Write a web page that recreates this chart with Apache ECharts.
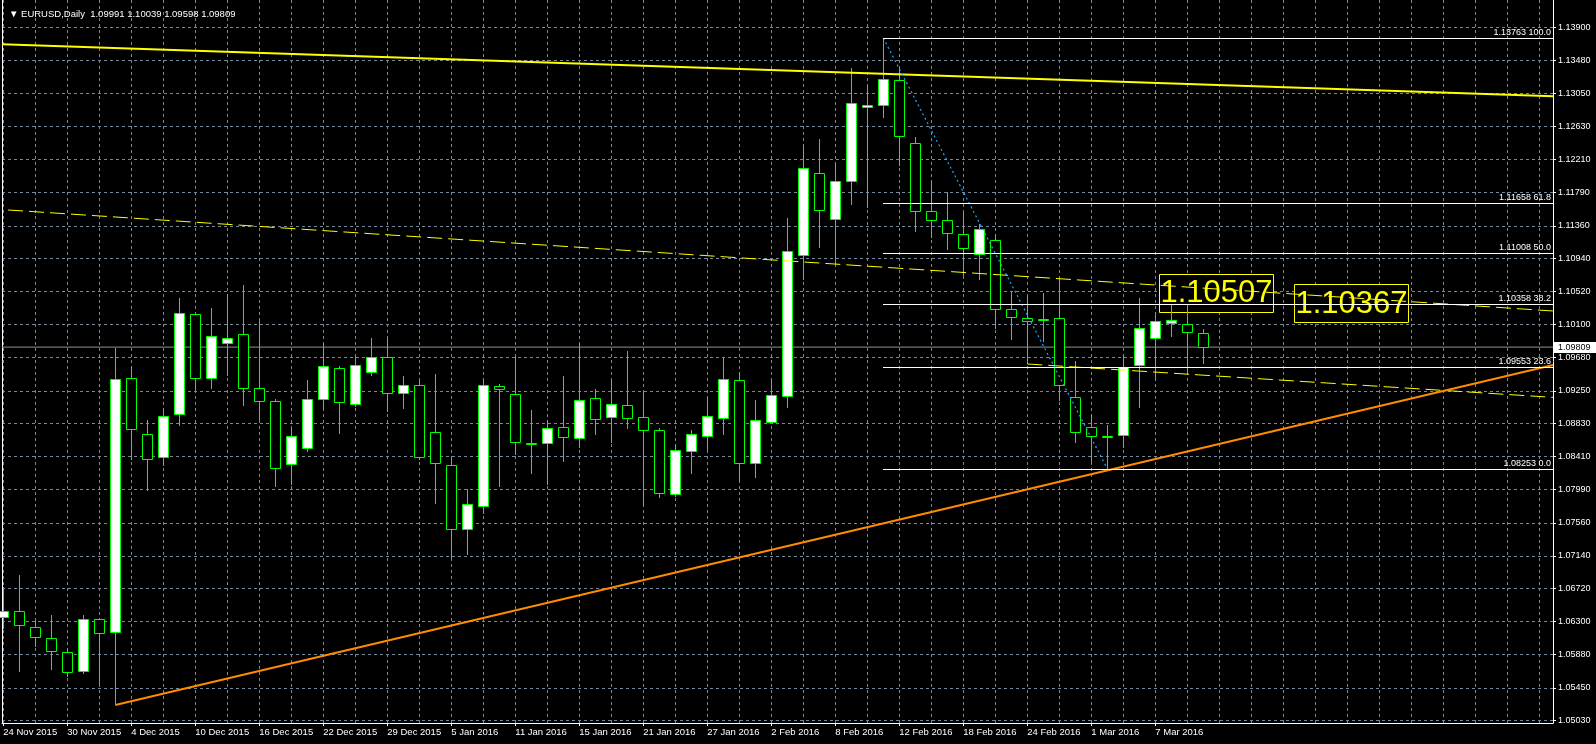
<!DOCTYPE html>
<html><head><meta charset="utf-8">
<script src="https://cdn.jsdelivr.net/npm/echarts@6/dist/echarts.min.js"></script>
<style>html,body{margin:0;padding:0;background:#000}#c{width:1596px;height:744px}</style>
</head><body><div id="c"></div>
<script>
// ---------------- data ----------------
const symbolTitle = 'EURUSD,Daily';
const dates = ['24 Nov 2015','25 Nov 2015','26 Nov 2015','27 Nov 2015','30 Nov 2015','1 Dec 2015','2 Dec 2015','3 Dec 2015',
'4 Dec 2015','7 Dec 2015','8 Dec 2015','9 Dec 2015','10 Dec 2015','11 Dec 2015','14 Dec 2015','15 Dec 2015',
'16 Dec 2015','17 Dec 2015','18 Dec 2015','21 Dec 2015','22 Dec 2015','23 Dec 2015','24 Dec 2015','28 Dec 2015',
'29 Dec 2015','30 Dec 2015','31 Dec 2015','4 Jan 2016','5 Jan 2016','6 Jan 2016','7 Jan 2016','8 Jan 2016',
'11 Jan 2016','12 Jan 2016','13 Jan 2016','14 Jan 2016','15 Jan 2016','18 Jan 2016','19 Jan 2016','20 Jan 2016',
'21 Jan 2016','22 Jan 2016','25 Jan 2016','26 Jan 2016','27 Jan 2016','28 Jan 2016','29 Jan 2016','1 Feb 2016',
'2 Feb 2016','3 Feb 2016','4 Feb 2016','5 Feb 2016','8 Feb 2016','9 Feb 2016','10 Feb 2016','11 Feb 2016',
'12 Feb 2016','15 Feb 2016','16 Feb 2016','17 Feb 2016','18 Feb 2016','19 Feb 2016','22 Feb 2016','23 Feb 2016',
'24 Feb 2016','25 Feb 2016','26 Feb 2016','29 Feb 2016','1 Mar 2016','2 Mar 2016','3 Mar 2016','4 Mar 2016',
'7 Mar 2016','8 Mar 2016','9 Mar 2016','10 Mar 2016'];
const opens = [1.06352,1.06429,1.06224,1.06084,1.05905,1.05662,1.06327,1.06160,
1.09410,1.08693,1.08399,1.08949,1.10228,1.09410,1.09857,1.09972,
1.09282,1.09115,1.08310,1.08514,1.09141,1.09538,1.09077,1.09486,
1.09678,1.09218,1.09320,1.08719,1.08297,1.07478,1.07772,1.09307,
1.09205,1.08576,1.08578,1.08783,1.08642,1.09154,1.08911,1.09064,
1.08911,1.08744,1.07926,1.08476,1.08668,1.08898,1.09384,1.08322,
1.08855,1.09179,1.10983,1.12032,1.11444,1.11930,1.12876,1.12902,
1.13222,1.12416,1.11546,1.11431,1.11252,1.10996,1.11175,1.10292,
1.10177,1.10173,1.10177,1.09167,1.08783,1.08676,1.08681,1.09576,
1.09921,1.10113,1.10100,1.09991];
const highs = [1.06736,1.06894,1.06310,1.06382,1.05964,1.06382,1.06340,1.09798,
1.09563,1.08872,1.09013,1.10433,1.10241,1.10305,1.10488,1.10604,
1.10143,1.09141,1.08770,1.09384,1.09845,1.09563,1.09678,1.09921,
1.09921,1.09435,1.09371,1.09461,1.08386,1.07990,1.09397,1.09333,
1.09691,1.09000,1.08872,1.09435,1.09845,1.09269,1.09384,1.09755,
1.09231,1.08770,1.08565,1.08744,1.09167,1.09678,1.09486,1.09128,
1.09401,1.11456,1.12390,1.12467,1.12160,1.13375,1.13145,1.13763,
1.13375,1.12493,1.11930,1.11789,1.11529,1.11380,1.11252,1.10523,
1.10463,1.10497,1.10689,1.09627,1.08936,1.08808,1.09704,1.10437,
1.10254,1.10358,1.10358,1.10039];
const lows = [1.06199,1.05657,1.05977,1.05683,1.05585,1.05632,1.05504,1.05231,
1.08361,1.07964,1.08284,1.08796,1.09256,1.09269,1.09435,1.09051,
1.08877,1.08024,1.08049,1.08472,1.09022,1.08702,1.09039,1.09444,
1.08975,1.09022,1.08365,1.07806,1.07103,1.07145,1.07670,1.08024,
1.08433,1.08190,1.08049,1.08344,1.08514,1.08689,1.08587,1.08766,
1.07772,1.07883,1.07896,1.08182,1.08497,1.08689,1.08101,1.08139,
1.08834,1.09034,1.10668,1.11081,1.10868,1.11623,1.11584,1.12736,
1.12122,1.11277,1.11201,1.11056,1.10714,1.10663,1.10036,1.09896,
1.09589,1.09870,1.09115,1.08587,1.08344,1.08253,1.08514,1.09026,
1.09371,1.09934,1.09461,1.09598];
const closes = [1.06429,1.06250,1.06097,1.05917,1.05649,1.06327,1.06148,1.09397,
1.08757,1.08373,1.08924,1.10241,1.09410,1.09947,1.09921,1.09282,
1.09115,1.08258,1.08668,1.09141,1.09563,1.09103,1.09576,1.09678,
1.09218,1.09320,1.08399,1.08322,1.07478,1.07798,1.09320,1.09269,
1.08591,1.08572,1.08770,1.08655,1.09128,1.08885,1.09077,1.08898,
1.08744,1.07939,1.08489,1.08693,1.08924,1.09397,1.08322,1.08872,
1.09192,1.11034,1.12096,1.11559,1.11930,1.12927,1.12902,1.13234,
1.12505,1.11546,1.11431,1.11264,1.11073,1.11316,1.10292,1.10190,
1.10139,1.10169,1.09320,1.08719,1.08668,1.08672,1.09559,1.10049,
1.10139,1.10152,1.09998,1.09809];
const priceTicks = [1.05030,1.05450,1.05880,1.06300,1.06720,1.07140,1.07560,1.07990,1.08410,1.08830,1.09250,
1.09680,1.10100,1.10520,1.10940,1.11360,1.11790,1.12210,1.12630,1.13050,1.13480,1.13900];
const fibLevels = [1.13763,1.11658,1.11008,1.10358,1.09553,1.08253];
const fibPercents = ['100.0','61.8','50.0','38.2','23.6','0.0'];
const fibAnchor = [[55,1.13763],[69,1.08253]];          // high bar -> low bar
const resistanceLine = [[-0.08,1.13682],[96.86,1.13017]];
const channelUpper = [[0.3,1.11563],[96.86,1.10271]];
const channelLower = [[64,1.09593],[96.86,1.09166]];
const supportLine = [[7,1.05231],[96.86,1.09579]];
const priceNotes = [[72.25,1.10507],[80.69,1.10367]];
const lastPrice = 1.09809;

// ---------------- layout ----------------
const X_MIN = -0.08125, X_MAX = 96.856;
const Y_MIN = 1.050006, Y_MAX = 1.142492;
const FONT = "'Liberation Sans', Arial, sans-serif";
const gridIdx = []; for (let i = 0; i <= 96; i += 2) gridIdx.push(i);
const labelIdx = []; for (let i = 0; i < dates.length; i += 4) labelIdx.push(i);

const candleData = opens.map((o, i) => [i, o, closes[i], lows[i], highs[i]]);
const last = candleData.length - 1;
const titleText = '\u25BC ' + symbolTitle + '  ' + [opens[last], highs[last], lows[last], closes[last]].map(v => v.toFixed(5)).join(' ');

function lineSeries(data, color, width, type, z) {
  return { type: 'line', data: data, xAxisIndex: 0, yAxisIndex: 0, showSymbol: false, symbol: 'none',
    silent: true, clip: true, z: z,
    lineStyle: { color: color, width: width, type: type } };
}

const chart = echarts.init(document.getElementById('c'), null, { renderer: 'canvas' });
const option = {
  backgroundColor: '#000000',
  animation: false,
  title: { text: titleText, left: 4, top: 4,
    textStyle: { color: '#ffffff', fontSize: 9.5, fontWeight: 'normal', fontFamily: FONT } },
  grid: { left: 2, right: 43, top: 0, bottom: 21, containLabel: false },
  xAxis: [
    { type: 'value', position: 'top', min: X_MIN, max: X_MAX,
      axisLine: { show: false }, axisTick: { show: false, customValues: gridIdx }, axisLabel: { show: false },
      splitLine: { show: true, lineStyle: { color: '#778899', width: 1, type: [3, 3] } } },
    { type: 'value', position: 'bottom', min: X_MIN, max: X_MAX,
      axisLine: { show: true, onZero: false, lineStyle: { color: '#ffffff', width: 1 } },
      axisTick: { show: true, customValues: labelIdx, length: 3, lineStyle: { color: '#ffffff' } },
      axisLabel: { show: true, customValues: labelIdx, formatter: v => dates[Math.round(v)] || '',
        color: '#ffffff', fontSize: 9.5, fontFamily: FONT, align: 'left', margin: 4 },
      splitLine: { show: false } }
  ],
  yAxis: [
    { type: 'value', position: 'right', min: Y_MIN, max: Y_MAX,
      axisLine: { show: true, onZero: false, lineStyle: { color: '#ffffff', width: 1 } },
      axisTick: { show: true, customValues: priceTicks, length: 3, lineStyle: { color: '#ffffff' } },
      axisLabel: { show: true, customValues: priceTicks, formatter: v => v.toFixed(5),
        color: '#ffffff', fontSize: 9, fontFamily: FONT, margin: 5 },
      splitLine: { show: true, lineStyle: { color: '#778899', width: 1, type: [3, 3] } } },
    { type: 'value', position: 'left', min: Y_MIN, max: Y_MAX,
      axisLine: { show: true, onZero: false, lineStyle: { color: '#ffffff', width: 1 } },
      axisTick: { show: false }, axisLabel: { show: false }, splitLine: { show: false } }
  ],
  series: [
    // price note boxes (opaque, under candles)
    { type: 'custom', xAxisIndex: 0, yAxisIndex: 0, z: 2, silent: true, data: priceNotes,
      renderItem: (params, api) => {
        const p = api.coord([api.value(0), api.value(1)]);
        const x = Math.round(p[0]) + 0.5, y = Math.round(p[1] - 19) + 0.5;
        return { type: 'group', children: [
          { type: 'rect', shape: { x: x, y: y, width: 114, height: 38 },
            style: { fill: '#000000', stroke: '#FFFF00', lineWidth: 1 } },
          { type: 'text', z2: 10, style: { x: x + 57, y: p[1] + 1, text: api.value(1).toFixed(5),
            fill: '#FFFF00', font: "31px 'Liberation Sans', Arial, sans-serif", textAlign: 'center', textVerticalAlign: 'middle' } }
        ] };
      } },
    // current price line
    lineSeries([[X_MIN, lastPrice], [X_MAX, lastPrice]], '#8f8f8f', 1, 'solid', 1),
    // candles
    { type: 'custom', xAxisIndex: 0, yAxisIndex: 0, z: 3, silent: true, data: candleData,
      renderItem: (params, api) => {
        const i = api.value(0), o = api.value(1), c = api.value(2), l = api.value(3), h = api.value(4);
        const pO = api.coord([i, o]), pC = api.coord([i, c]), pH = api.coord([i, h]), pL = api.coord([i, l]);
        const x = Math.round(pO[0]) + 0.5;
        const bw = Math.round(api.size([1, 0])[0] * 0.625);
        let top = Math.round(Math.min(pO[1], pC[1])) + 0.5;
        let bot = Math.round(Math.max(pO[1], pC[1])) + 0.5;
        if (bot - top < 1) bot = top + 1;
        const bull = c >= o;
        return { type: 'group', children: [
          { type: 'line', shape: { x1: x, y1: Math.round(pH[1]), x2: x, y2: Math.round(pL[1]) },
            style: { stroke: '#00FF00', lineWidth: 1 } },
          { type: 'rect', shape: { x: x - bw / 2, y: top, width: bw, height: bot - top },
            style: { fill: bull ? '#ffffff' : '#000000', stroke: '#00FF00', lineWidth: 1 } }
        ] };
      } },
    // trend lines
    lineSeries(resistanceLine, '#FFFF00', 2, 'solid', 4),
    lineSeries(channelUpper, '#FFFF00', 1, [15, 6], 4),
    lineSeries(channelLower, '#FFFF00', 1, [15, 6], 4),
    lineSeries(supportLine, '#FF8C00', 2, 'solid', 4),
    lineSeries(fibAnchor, '#1EA8FF', 1.2, [2, 3], 4),
    // fibonacci levels
    { type: 'custom', xAxisIndex: 0, yAxisIndex: 0, z: 5, silent: true,
      data: fibLevels.map((v, k) => [fibAnchor[0][0], v, k]),
      renderItem: (params, api) => {
        const p = api.coord([api.value(0), api.value(1)]);
        const right = params.coordSys.x + params.coordSys.width;
        const y = Math.round(p[1]) + 0.5;
        const k = api.value(2);
        return { type: 'group', children: [
          { type: 'line', shape: { x1: Math.round(p[0]), y1: y, x2: right, y2: y },
            style: { stroke: '#ffffff', lineWidth: 1 } },
          { type: 'text', style: { x: right - 2, y: y - 1, text: api.value(1).toFixed(5) + ' ' + fibPercents[k],
            fill: '#ffffff', font: "9px 'Liberation Sans', Arial, sans-serif", textAlign: 'right', textVerticalAlign: 'bottom' } }
        ] };
      } },
    // last price tag on the axis
    { type: 'custom', xAxisIndex: 0, yAxisIndex: 0, z: 6, silent: true, data: [[X_MAX, lastPrice]],
      renderItem: (params, api) => {
        const p = api.coord([api.value(0), api.value(1)]);
        const x = params.coordSys.x + params.coordSys.width;
        return { type: 'group', children: [
          { type: 'rect', shape: { x: x, y: Math.round(p[1]) - 5, width: 43, height: 11 }, style: { fill: '#ffffff' } },
          { type: 'text', style: { x: x + 5, y: Math.round(p[1]) + 1, text: api.value(1).toFixed(5),
            fill: '#000000', font: "9px 'Liberation Sans', Arial, sans-serif", textAlign: 'left', textVerticalAlign: 'middle' } }
        ] };
      } }
  ]
};
chart.setOption(option);
</script>
</body></html>
